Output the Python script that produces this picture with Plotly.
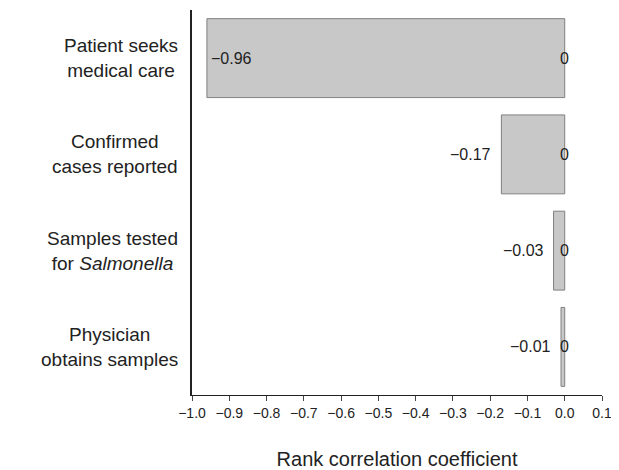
import plotly.graph_objects as go

categories = ["Patient seeks<br>medical care", "Confirmed<br>cases reported",
              "Samples tested<br>for <i>Salmonella</i>", "Physician<br>obtains samples"]
values = [-0.96, -0.17, -0.03, -0.01]
value_labels = ["\u22120.96", "\u22120.17", "\u22120.03", "\u22120.01"]
tick_vals = [round(-1.0 + 0.1 * i, 1) for i in range(12)]
tick_text = [("\u2212" if v < 0 else "") + f"{abs(v):.1f}" for v in tick_vals]

fig = go.Figure(go.Bar(
    x=values, y=categories, orientation="h", width=0.82,
    marker=dict(color="#c8c8c8", line=dict(color="#808080", width=1)),
))

for i, (v, lab) in enumerate(zip(values, value_labels)):
    inside = i == 0
    fig.add_annotation(x=v, y=categories[i], text=lab, showarrow=False,
                       xanchor="left" if inside else "right",
                       xshift=2 if inside else -8,
                       font=dict(size=16, color="#222"))
    fig.add_annotation(x=0, y=categories[i], text="0", showarrow=False,
                       xanchor="center", font=dict(size=16, color="#222"))
    fig.add_annotation(xref="paper", x=0, y=categories[i], text=categories[i],
                       showarrow=False, xanchor="right", xshift=-12, align="center",
                       font=dict(size=19, color="#222"))

fig.update_layout(
    width=611, height=462, plot_bgcolor="white", paper_bgcolor="white",
    margin=dict(l=184, r=17, t=2, b=75), showlegend=False,
    font=dict(family="Liberation Sans, Arial", color="#222"),
)
fig.update_xaxes(range=[-1.0, 0.1], tickvals=tick_vals, ticktext=tick_text,
                 ticks="outside", ticklen=5, showgrid=False, zeroline=False,
                 showline=True, linecolor="#222", tickfont=dict(size=14),
                 title=dict(text="Rank correlation coefficient", font=dict(size=20), standoff=32))
fig.update_yaxes(autorange="reversed", showgrid=False, showline=True, linecolor="#222",
                 linewidth=2, ticks="", showticklabels=False)
fig.write_html("out.html")
